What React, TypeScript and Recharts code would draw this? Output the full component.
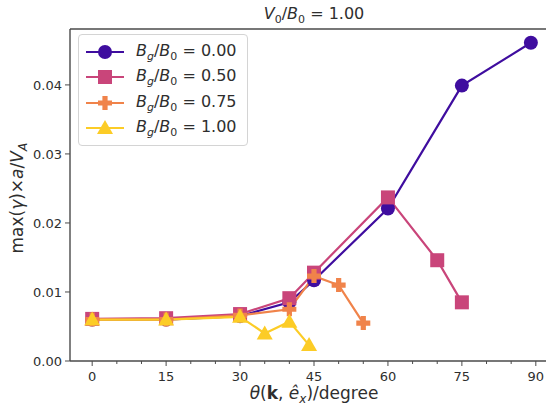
import { Legend, Line, LineChart, ReferenceLine, XAxis, YAxis } from 'recharts'

// growth rate vs propagation angle, one list pair per guide-field ratio
const angles0 = [0, 15, 30, 40, 45, 60, 75, 89]
const growth0 = [0.006, 0.006, 0.0065, 0.0085, 0.0117, 0.0221, 0.0399, 0.0461]
const angles50 = [0, 15, 30, 40, 45, 60, 70, 75]
const growth50 = [0.0061, 0.0062, 0.0068, 0.0091, 0.0128, 0.0237, 0.0146, 0.0085]
const angles75 = [0, 15, 30, 40, 45, 50, 55]
const growth75 = [0.006, 0.006, 0.0066, 0.0075, 0.0123, 0.011, 0.0055]
const angles100 = [0, 15, 30, 35, 40, 44]
const growth100 = [0.006, 0.006, 0.0064, 0.004, 0.0057, 0.0023]

const xTicks = [0, 5, 10, 15, 20, 25, 30, 35, 40, 45, 50, 55, 60, 65, 70, 75, 80, 85, 90]
const yTicks = [0, 0.01, 0.02, 0.03, 0.04]
const X_DOMAIN: [number, number] = [-4.5, 94.5]
const Y_TOP = 0.0481

const FONT = '"DejaVu Sans", sans-serif'
const AXIS = '#4a4a4a'
const TEXT = '#2e2e2e'

type Shape = 'circle' | 'square' | 'plus' | 'triangle'

const series = [
  { key: 'b0', label: '0.00', color: '#3f0d9f', shape: 'circle' as Shape, angles: angles0, growth: growth0 },
  { key: 'b50', label: '0.50', color: '#c9457a', shape: 'square' as Shape, angles: angles50, growth: growth50 },
  { key: 'b75', label: '0.75', color: '#f0834a', shape: 'plus' as Shape, angles: angles75, growth: growth75 },
  { key: 'b100', label: '1.00', color: '#fccc26', shape: 'triangle' as Shape, angles: angles100, growth: growth100 },
]

function Marker({ cx, cy, shape, color }: { cx: number; cy: number; shape: Shape; color: string }) {
  if (shape === 'circle') return <circle cx={cx} cy={cy} r={7} fill={color} />
  if (shape === 'square') return <rect x={cx - 7} y={cy - 7} width={14} height={14} fill={color} />
  if (shape === 'triangle')
    return <path d={`M${cx},${cy - 8} L${cx + 8},${cy + 6} L${cx - 8},${cy + 6} Z`} fill={color} />
  const a = 7
  const w = 2.6
  return (
    <path
      d={`M${cx - w},${cy - a} H${cx + w} V${cy - w} H${cx + a} V${cy + w} H${cx + w} V${cy + a} H${cx - w} V${cy + w} H${cx - a} V${cy - w} H${cx - w} Z`}
      fill={color}
    />
  )
}

function XTick(props: any) {
  const { x, y, payload } = props
  const major = payload.value % 15 === 0
  return (
    <g>
      <line x1={x} x2={x} y1={y} y2={y + (major ? 5 : 3)} stroke={AXIS} strokeWidth={1} />
      {major && (
        <text x={x} y={y + 20} textAnchor="middle" fill={TEXT} fontSize={13} fontFamily={FONT}>
          {payload.value}
        </text>
      )}
    </g>
  )
}

function renderLegend() {
  return (
    <div
      style={{
        border: '1px solid #d4d4d4',
        borderRadius: 4,
        background: 'rgba(255,255,255,0.85)',
        padding: '4px 10px 4px 6px',
        fontFamily: FONT,
        fontSize: 16,
        color: TEXT,
      }}
    >
      {series.map((s) => (
        <div key={s.key} style={{ display: 'flex', alignItems: 'center', height: 25.5 }}>
          <svg width={40} height={20} style={{ marginRight: 11 }}>
            <line x1={1} x2={39} y1={10} y2={10} stroke={s.color} strokeWidth={2.2} />
            <Marker cx={20} cy={10} shape={s.shape} color={s.color} />
          </svg>
          <span>
            <i>B</i>
            <sub style={{ fontSize: 11 }}><i>g</i></sub>/<i>B</i>
            <sub style={{ fontSize: 11 }}>0</sub> = {s.label}
          </span>
        </div>
      ))}
    </div>
  )
}

export default function App() {
  return (
    <div
      style={{
        position: 'absolute',
        left: 0,
        top: 0,
        width: 546,
        height: 408,
        overflow: 'hidden',
        background: '#fff',
        fontFamily: FONT,
      }}
    >
      <LineChart width={572} height={408} margin={{ top: 29, right: 14, left: 0, bottom: 0 }}>
        <XAxis
          dataKey="angle"
          type="number"
          domain={X_DOMAIN}
          ticks={xTicks}
          tick={<XTick />}
          tickLine={false}
          tickSize={0}
          tickMargin={0}
          interval={0}
          axisLine={{ stroke: AXIS, strokeWidth: 1.4 }}
          height={47}
          allowDuplicatedCategory={false}
        />
        <YAxis
          type="number"
          domain={[0, Y_TOP]}
          ticks={yTicks}
          tickFormatter={(v: number) => v.toFixed(2)}
          tickSize={5}
          tickMargin={3}
          interval={0}
          tickLine={{ stroke: AXIS }}
          axisLine={{ stroke: AXIS, strokeWidth: 1.4 }}
          tick={{ fill: TEXT, fontSize: 13, fontFamily: FONT }}
          width={70}
        />
        <ReferenceLine y={Y_TOP} stroke={AXIS} strokeWidth={1.4} />
        <Legend
          content={renderLegend}
          layout="vertical"
          align="center"
          verticalAlign="middle"
          wrapperStyle={{ position: 'absolute', left: 78, top: 34, width: 'auto' }}
        />
        {series.map((s) => (
          <Line
            key={s.key}
            data={s.angles.map((a, i) => ({ angle: a, growth: s.growth[i] }))}
            dataKey="growth"
            type="linear"
            stroke={s.color}
            strokeWidth={2.2}
            dot={(p: any) => <Marker key={`${s.key}-${p.index}`} cx={p.cx} cy={p.cy} shape={s.shape} color={s.color} />}
            activeDot={false}
            isAnimationActive={false}
          />
        ))}
      </LineChart>
      <div
        style={{
          position: 'absolute',
          left: 214,
          top: 4,
          width: 200,
          textAlign: 'center',
          fontSize: 16,
          color: TEXT,
          lineHeight: '20px',
        }}
      >
        <i>V</i>
        <sub style={{ fontSize: 11 }}>0</sub>/<i>B</i>
        <sub style={{ fontSize: 11 }}>0</sub> = 1.00
      </div>
      <div
        style={{
          position: 'absolute',
          left: 214,
          top: 383,
          width: 200,
          textAlign: 'center',
          fontSize: 17,
          color: TEXT,
          lineHeight: '20px',
        }}
      >
        <i>θ</i>(<b>k</b>, <i>ê</i>
        <sub style={{ fontSize: 12 }}><i>x</i></sub>)/degree
      </div>
      <div
        style={{
          position: 'absolute',
          left: 20 - 100,
          top: 195 - 10,
          width: 200,
          textAlign: 'center',
          fontSize: 17,
          color: TEXT,
          lineHeight: '20px',
          transform: 'rotate(-90deg)',
        }}
      >
        max(<i>γ</i>)×<i>a</i>/<i>V</i>
        <sub style={{ fontSize: 12 }}><i>A</i></sub>
      </div>
    </div>
  )
}
